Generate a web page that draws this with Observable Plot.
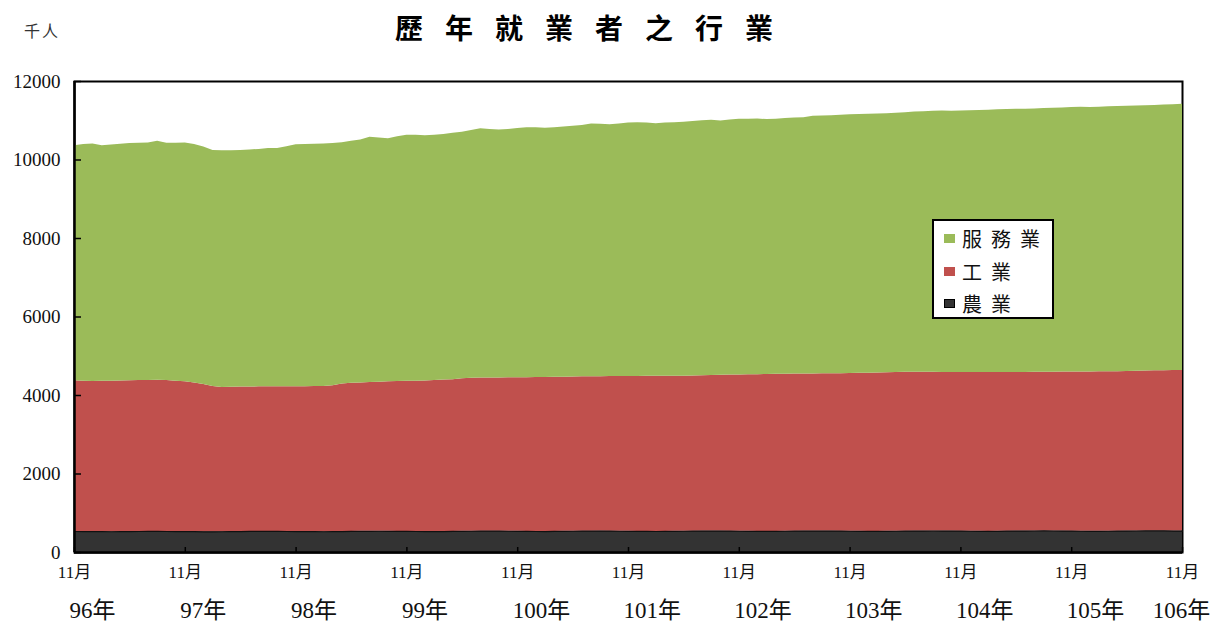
<!DOCTYPE html>
<html>
<head>
<meta charset="utf-8">
<script src="https://cdn.jsdelivr.net/npm/d3@7"></script>
<script src="https://cdn.jsdelivr.net/npm/@observablehq/plot@0.6"></script>
<style>
  html, body { margin: 0; padding: 0; background: #fff; }
  #wrap { position: relative; width: 1210px; height: 622px; overflow: hidden; }
  #wrap svg text { font-family: "Liberation Serif", "Noto Sans CJK TC", serif !important; }
  #title { position: absolute; left: 395px; top: 8px; font-family: "Noto Sans CJK TC", sans-serif; font-size: 28px; font-weight: bold; letter-spacing: 22px; color: #000; white-space: nowrap; line-height: 38px; }
  #unit { position: absolute; left: 24px; top: 19px; font-family: "Noto Sans CJK TC", sans-serif; font-size: 16px; color: #333; line-height: 22px; letter-spacing: 2px; }
  #legend { position: absolute; left: 932px; top: 219px; width: 118px; height: 96px; border: 2px solid #000; background: #fff; }
  .row { position: absolute; left: 10px; height: 26px; display: flex; align-items: center; font-family: "Noto Sans CJK TC", sans-serif; font-size: 20px; letter-spacing: 9px; color: #111; white-space: nowrap; }
  .sw { width: 11px; height: 9px; margin-right: 7px; box-sizing: border-box; }
</style>
</head>
<body>
<div id="wrap">
  <div id="title">歷年就業者之行業</div>
  <div id="unit">千人</div>
  <div id="legend"></div>
</div>
<script>
// 年份標籤 (96年11月 ~ 106年11月, 每月一筆)
const years = ["96年","97年","98年","99年","100年","101年","102年","103年","104年","105年","106年"];
const monthTick = "11月";
const sectors = ["農業","工業","服務業"];
const colors = ["#333333","#C0504D","#9BBB59"];
const yTicks = [0,2000,4000,6000,8000,10000,12000];

// 農業 (千人)
const agri = [
  535,533,531,530,529,531,533,535,536,537,535,533,
  532,530,528,527,529,532,534,536,537,538,537,535,
  534,532,530,529,531,534,537,539,540,541,540,538,
  537,535,533,532,534,537,540,542,543,544,543,541,
  539,537,535,534,536,539,541,543,544,545,544,542,
  540,538,536,535,537,540,542,544,545,546,545,543,
  541,539,537,536,538,541,543,545,546,547,546,544,
  542,540,538,537,539,542,544,546,547,548,547,545,
  543,541,539,538,540,543,545,547,548,549,548,546,
  544,542,540,539,541,544,546,548,549,550,549,547,
  545
];
// 工業 (千人)
const industry = [
  3839,3832,3826,3830,3836,3839,3842,3845,3849,3854,3845,3832,
  3816,3790,3752,3703,3675,3680,3681,3682,3683,3684,3685,3685,
  3688,3693,3698,3700,3719,3756,3777,3781,3790,3799,3808,3817,
  3823,3830,3839,3848,3858,3865,3885,3898,3901,3902,3905,3909,
  3913,3918,3923,3926,3926,3926,3929,3933,3934,3935,3938,3943,
  3946,3949,3952,3954,3953,3951,3951,3954,3960,3964,3970,3977,
  3984,3988,3993,3999,4002,4001,4002,4003,4004,4005,4006,4010,
  4019,4025,4032,4038,4041,4043,4046,4049,4045,4042,4041,4041,
  4042,4045,4048,4050,4047,4043,4042,4040,4042,4043,4047,4050,
  4054,4058,4060,4063,4064,4064,4066,4070,4073,4078,4083,4089,
  4093
];
// 服務業 (千人)
const services = [
  5990,6030,6048,6005,6015,6030,6047,6048,6047,6084,6044,6063,
  6084,6078,6050,6010,6030,6024,6025,6034,6050,6068,6074,6120,
  6168,6170,6172,6178,6170,6151,6161,6190,6247,6220,6195,6235,
  6268,6265,6248,6248,6258,6277,6279,6310,6354,6334,6316,6330,
  6348,6368,6365,6346,6358,6375,6390,6404,6439,6430,6418,6435,
  6454,6464,6452,6436,6450,6459,6467,6482,6495,6501,6479,6500,
  6512,6513,6515,6495,6500,6513,6525,6531,6565,6570,6578,6586,
  6594,6595,6595,6595,6600,6605,6615,6629,6638,6655,6661,6659,
  6665,6669,6673,6682,6693,6699,6703,6705,6710,6718,6722,6729,
  6737,6743,6740,6743,6750,6757,6758,6759,6758,6762,6768,6774,
  6782
];

const seriesValues = [agri, industry, services];
const table = [];
sectors.forEach((s, k) => seriesValues[k].forEach((v, i) => table.push({i, sector: s, value: v})));
const xTicks = years.map((_, k) => k * 12);
const nMonths = agri.length - 1;

const font = "Liberation Serif, Noto Sans CJK TC, serif";

const chart = Plot.plot({
  width: 1210,
  height: 622,
  marginTop: 81,
  marginBottom: 70,
  marginLeft: 74,
  marginRight: 28,
  style: {background: "transparent", overflow: "visible", color: "#111"},
  x: {domain: [0, nMonths], axis: null},
  y: {domain: [yTicks[0], yTicks[yTicks.length - 1]], axis: null},
  color: {domain: sectors, range: colors},
  marks: [
    Plot.frame({stroke: "#000", strokeWidth: 2}),
    Plot.areaY(table, {x: "i", y: "value", fill: "sector", curve: "linear"}),
    Plot.lineY(agri, {x: (d, i) => i, y: d => d, stroke: "#111", strokeWidth: 1.2}),
    Plot.ruleY(yTicks, {stroke: "#000", strokeWidth: 1.5, insetRight: 1101}),
    Plot.ruleX(xTicks, {stroke: "#000", strokeWidth: 1.5, insetTop: 466}),
    Plot.ruleX([0], {stroke: "#000", strokeWidth: 2.5}),
    Plot.ruleY([0], {stroke: "#000", strokeWidth: 2.5}),
    Plot.axisY(yTicks, {tickSize: 0, tickPadding: 14, fontSize: 19, fontFamily: font, tickFormat: d => String(d), label: null, fill: "#111"}),
    Plot.axisX(xTicks, {tickSize: 0, tickPadding: 13, fontSize: 17, fontFamily: font, tickFormat: () => monthTick, label: null, fill: "#111"}),
    Plot.text(years.slice(0, years.length - 1), {x: (d, k) => k * 12, y: 0, dy: 58, dx: -5, textAnchor: "start", fontSize: 23, fontFamily: font, fill: "#111"}),
    Plot.text(years.slice(years.length - 1), {x: () => (years.length - 1) * 12, y: 0, dy: 58, dx: -1, textAnchor: "middle", fontSize: 23, fontFamily: font, fill: "#111"})
  ]
});
chart.style.position = "absolute";
chart.style.left = "0px";
chart.style.top = "0px";
const wrap = document.getElementById("wrap");
wrap.insertBefore(chart, wrap.firstChild);

// legend
const legend = document.getElementById("legend");
const order = [2, 1, 0];
const tops = [4, 37, 69];
order.forEach((k, r) => {
  const row = document.createElement("div");
  row.className = "row";
  row.style.top = tops[r] + "px";
  const sw = document.createElement("div");
  sw.className = "sw";
  sw.style.background = colors[k];
  if (k === 0) sw.style.border = "1.5px solid #000";
  const label = document.createElement("span");
  label.textContent = sectors[k];
  row.appendChild(sw);
  row.appendChild(label);
  legend.appendChild(row);
});
</script>
</body>
</html>
